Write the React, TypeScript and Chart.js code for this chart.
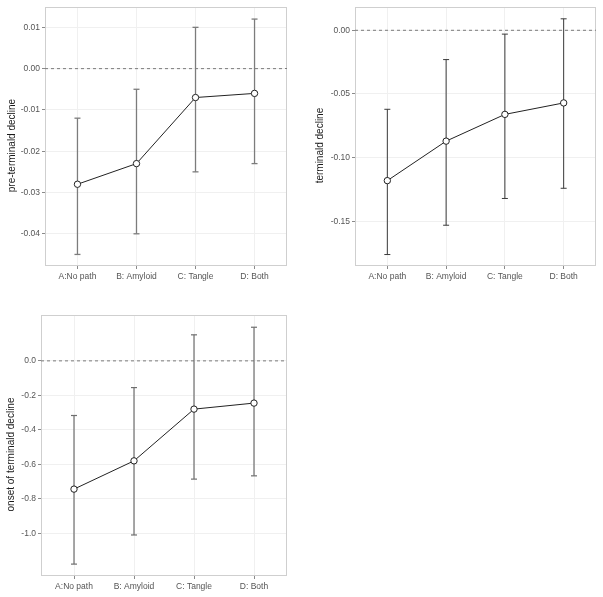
import React, { useEffect, useRef } from "react";
import { Chart, registerables } from "chart.js";

Chart.register(...registerables);

const categories = ["A:No path", "B: Amyloid", "C: Tangle", "D: Both"];

const preEst = [-0.028, -0.023, -0.007, -0.006];
const preLo = [-0.045, -0.04, -0.025, -0.023];
const preHi = [-0.012, -0.005, 0.01, 0.012];
const preTicks = [0.01, 0, -0.01, -0.02, -0.03, -0.04];

const termEst = [-0.118, -0.087, -0.066, -0.057];
const termLo = [-0.176, -0.153, -0.132, -0.124];
const termHi = [-0.062, -0.023, -0.003, 0.009];
const termTicks = [0, -0.05, -0.1, -0.15];

const onsetEst = [-0.744, -0.58, -0.28, -0.245];
const onsetLo = [-1.179, -1.01, -0.686, -0.667];
const onsetHi = [-0.317, -0.155, 0.151, 0.195];
const onsetTicks = [0, -0.2, -0.4, -0.6, -0.8, -1.0];

const FONT = "'Liberation Sans', Arial, Helvetica, sans-serif";

type PanelSpec = {
  title: string;
  est: number[];
  lo: number[];
  hi: number[];
  ticks: number[];
  decimals: number;
  yMin: number;
  yMax: number;
  left: number;
  top: number;
  width: number;
  height: number;
  yAxisWidth: number;
  xAxisHeight: number;
  padTop: number;
  padRight: number;
  titleX: number;
  barColor: string;
  barWidth: number;
};

const panels: PanelSpec[] = [
  {
    title: "pre-terminald decline",
    est: preEst, lo: preLo, hi: preHi, ticks: preTicks, decimals: 2,
    yMin: -0.0478, yMax: 0.0149,
    left: 0, top: 0, width: 300, height: 300,
    yAxisWidth: 45, xAxisHeight: 34, padTop: 6, padRight: 13, titleX: 12,
    barColor: "#7c7c7c", barWidth: 1.3,
  },
  {
    title: "terminald decline",
    est: termEst, lo: termLo, hi: termHi, ticks: termTicks, decimals: 2,
    yMin: -0.185, yMax: 0.0182,
    left: 300, top: 0, width: 303, height: 300,
    yAxisWidth: 55, xAxisHeight: 34, padTop: 6, padRight: 7, titleX: 20,
    barColor: "#3a3a3a", barWidth: 1,
  },
  {
    title: "onset of terminald decline",
    est: onsetEst, lo: onsetLo, hi: onsetHi, ticks: onsetTicks, decimals: 1,
    yMin: -1.248, yMax: 0.266,
    left: 0, top: 300, width: 300, height: 297,
    yAxisWidth: 41, xAxisHeight: 21, padTop: 15, padRight: 13, titleX: 11,
    barColor: "#6e6e6e", barWidth: 1.2,
  },
];

const borderPlugin = {
  id: "panelBorder",
  beforeDatasetsDraw(chart: any) {
    const { ctx, chartArea } = chart;
    const { left, top, right, bottom } = chartArea;
    ctx.save();
    ctx.strokeStyle = "#cfcfcf";
    ctx.lineWidth = 1;
    ctx.strokeRect(Math.round(left) + 0.5, Math.round(top) + 0.5, Math.round(right - left) - 1, Math.round(bottom - top) - 1);
    ctx.restore();
  },
};

const yTitlePlugin = {
  id: "yTitle",
  afterDraw(chart: any, _args: any, opts: any) {
    const { ctx, chartArea } = chart;
    const cy = (chartArea.top + chartArea.bottom) / 2 + 9;
    ctx.save();
    ctx.translate(opts.x, cy);
    ctx.rotate(-Math.PI / 2);
    ctx.font = `10px ${FONT}`;
    ctx.fillStyle = "#1a1a1a";
    ctx.textAlign = "center";
    ctx.textBaseline = "middle";
    ctx.fillText(opts.text, 0, 0);
    ctx.restore();
  },
};

function Panel({ spec }: { spec: PanelSpec }) {
  const ref = useRef<HTMLCanvasElement>(null);
  useEffect(() => {
    if (!ref.current) return;
    const xMin = -0.55;
    const xMax = categories.length - 1 + 0.55;
    const errSets = categories.map((_, i) => ({
      data: [
        { x: i, y: spec.lo[i] },
        { x: i, y: spec.hi[i] },
      ],
      showLine: true,
      borderColor: spec.barColor,
      borderWidth: spec.barWidth,
      pointStyle: "line",
      pointRadius: 3,
      pointBorderWidth: spec.barWidth,
      pointBorderColor: spec.barColor,
      pointHoverRadius: 3,
    }));
    const chart = new Chart(ref.current, {
      type: "scatter",
      data: {
        datasets: [
          {
            data: spec.est.map((v, i) => ({ x: i, y: v })),
            showLine: true,
            borderColor: "#222222",
            borderWidth: 1,
            pointRadius: 3.2,
            pointBackgroundColor: "#ffffff",
            pointBorderColor: "#222222",
            pointBorderWidth: 1,
          },
          ...errSets,
          {
            data: [
              { x: xMin, y: 0 },
              { x: xMax, y: 0 },
            ],
            showLine: true,
            borderColor: "#7a7a7a",
            borderWidth: 1,
            borderDash: [3, 3],
            pointRadius: 0,
          },
        ] as any,
      },
      options: {
        responsive: false,
        animation: false,
        events: [],
        layout: { padding: { top: spec.padTop, right: spec.padRight, left: 0, bottom: 0 } },
        plugins: {
          legend: { display: false },
          tooltip: { enabled: false },
          yTitle: { text: spec.title, x: spec.titleX },
        },
        scales: {
          x: {
            type: "linear",
            min: xMin,
            max: xMax,
            afterBuildTicks: (s: any) => {
              s.ticks = categories.map((_, i) => ({ value: i }));
            },
            afterFit: (s: any) => {
              s.height = spec.xAxisHeight;
            },
            ticks: {
              callback: (v: any) => categories[Math.round(Number(v))] ?? "",
              font: { family: FONT, size: 8.5 },
              color: "#555555",
              padding: 3,
              maxRotation: 0,
              autoSkip: false,
            },
            grid: {
              color: "#f0f0f0",
              tickColor: "#8a8a8a",
              tickLength: 3,
              drawTicks: true,
            },
            border: { display: false },
          },
          y: {
            type: "linear",
            min: spec.yMin,
            max: spec.yMax,
            afterBuildTicks: (s: any) => {
              s.ticks = spec.ticks.map((v) => ({ value: v }));
            },
            afterFit: (s: any) => {
              s.width = spec.yAxisWidth;
            },
            ticks: {
              callback: (v: any) => Number(v).toFixed(spec.decimals),
              font: { family: FONT, size: 8.5 },
              color: "#555555",
              padding: 2,
              autoSkip: false,
            },
            grid: {
              color: "#f0f0f0",
              tickColor: "#8a8a8a",
              tickLength: 3,
              drawTicks: true,
            },
            border: { display: false },
          },
        },
      },
      plugins: [borderPlugin, yTitlePlugin],
    } as any);
    return () => chart.destroy();
  }, [spec]);
  return (
    <canvas
      ref={ref}
      width={spec.width}
      height={spec.height}
      style={{ position: "absolute", left: spec.left, top: spec.top, width: spec.width, height: spec.height }}
    />
  );
}

export default function App() {
  return (
    <div style={{ position: "absolute", left: 0, top: 0, width: 603, height: 597, background: "#ffffff" }}>
      {panels.map((p, i) => (
        <Panel key={i} spec={p} />
      ))}
    </div>
  );
}
